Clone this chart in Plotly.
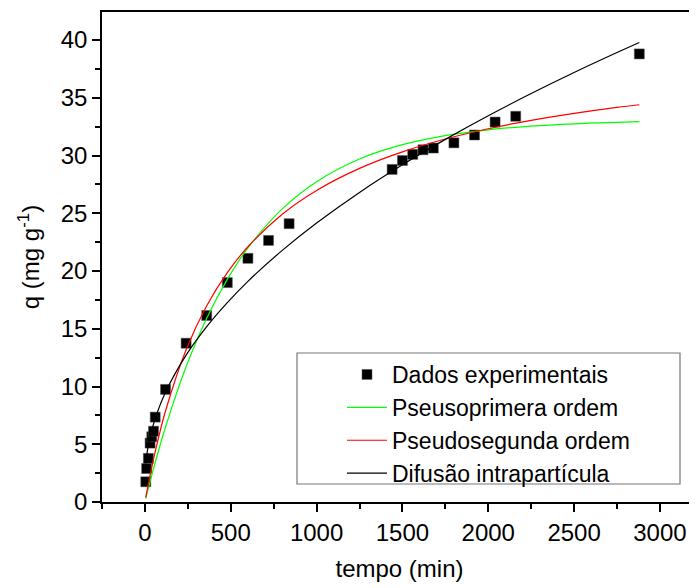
import plotly.graph_objects as go

# Experimental data
t_exp = [5, 10, 20, 30, 40, 50, 60, 120, 240, 360, 480, 600, 720, 840,
         1440, 1500, 1560, 1620, 1680, 1800, 1920, 2040, 2160, 2880]
q_exp = [1.75, 2.9, 3.78, 5.1, 5.65, 6.13, 7.35, 9.75, 13.75, 16.15, 19.0, 21.1, 22.65, 24.1,
         28.8, 29.57, 30.1, 30.5, 30.65, 31.1, 31.78, 32.9, 33.4, 38.8]

# Fitted curves
t_fit = [5, 15, 30, 60, 120, 240, 360, 480, 600, 800, 1000, 1250, 1500, 1750, 2000, 2250, 2500, 2750, 2880]
q_pfo = [0.30, 0.89, 1.76, 3.42, 6.49, 11.71, 15.91, 19.28, 22.0, 25.38, 27.74, 29.70, 30.94,
         31.73, 32.23, 32.55, 32.75, 32.88, 32.93]
q_pso = [0.40, 1.19, 2.31, 4.37, 7.88, 13.18, 16.99, 19.86, 22.10, 24.92, 26.98, 28.89, 30.32,
         31.43, 32.32, 33.05, 33.65, 34.17, 34.40]
q_dif = [3.33, 4.49, 5.62, 7.23, 9.51, 12.72, 15.19, 17.27, 19.11, 21.79, 24.16, 26.81, 29.20,
         31.40, 33.45, 35.37, 37.19, 38.92, 39.79]

FONT = "Arial, Liberation Sans, sans-serif"
FS = 24
LFS = 23

fig = go.Figure()
fig.add_trace(go.Scatter(x=t_exp, y=q_exp, mode="markers", name="Dados experimentais",
                         marker=dict(symbol="square", size=10, color="black",
                                     line=dict(color="#555555", width=0.5))))
fig.add_trace(go.Scatter(x=t_fit, y=q_pfo, mode="lines", name="Pseusoprimera ordem",
                         line=dict(color="#00ff00", width=1.2, shape="spline")))
fig.add_trace(go.Scatter(x=t_fit, y=q_pso, mode="lines", name="Pseudosegunda ordem",
                         line=dict(color="#ff0000", width=1.2, shape="spline")))
fig.add_trace(go.Scatter(x=t_fit, y=q_dif, mode="lines", name="Difusão intrapartícula",
                         line=dict(color="black", width=1.2, shape="spline")))

# page body has an 8px default margin; work in window pixels and convert
OFF = 8
W, H = 697 - OFF, 588 - OFF
PL, PR, PT, PB = 102, 697, 12, 502          # plot area in window pixels
L, T = PL - OFF, PT - OFF
R = W - (PR - OFF)
B = H - (PB - OFF)
pw, ph = PR - PL, PB - PT

def px2paper(x, y):
    return (x - PL) / pw, (PB - y) / ph

x0, y0 = px2paper(297, 484)
x1, y1 = px2paper(680, 353)
fig.add_shape(type="rect", xref="paper", yref="paper", x0=x0, y0=y0, x1=x1, y1=y1,
              line=dict(color="#777777", width=1.2), fillcolor="white", layer="below")

lx, ly = px2paper(342, 353)

fig.update_layout(
    width=W, height=H,
    margin=dict(l=L, r=R, t=T, b=B),
    paper_bgcolor="white", plot_bgcolor="white",
    font=dict(family=FONT, size=FS, color="black"),
    showlegend=True,
    legend=dict(x=lx, y=ly, xanchor="left", yanchor="top",
                bgcolor="rgba(0,0,0,0)", borderwidth=0,
                font=dict(family=FONT, size=LFS, color="black"),
                tracegroupgap=0, itemwidth=40),
    xaxis=dict(range=[-250, 3216], tickmode="linear", tick0=0, dtick=500,
               ticks="outside", ticklen=8, tickwidth=1.5, tickcolor="black",
               showline=True, linewidth=1.5, linecolor="black", mirror=True,
               showgrid=False, zeroline=False,
               minor=dict(dtick=250, tick0=0, ticks="outside", ticklen=5, tickwidth=1.5,
                          tickcolor="black", showgrid=False),
               title=dict(text="tempo (min)", standoff=16, font=dict(size=FS)),
               tickfont=dict(size=FS)),
    yaxis=dict(range=[0, 42.43], tickmode="linear", tick0=0, dtick=5,
               ticks="outside", ticklen=8, tickwidth=1.5, tickcolor="black",
               showline=True, linewidth=1.5, linecolor="black", mirror=False,
               showgrid=False, zeroline=False,
               minor=dict(dtick=2.5, tick0=0, ticks="outside", ticklen=5, tickwidth=1.5,
                          tickcolor="black", showgrid=False),
               title=dict(text="q (mg g<sup>-1</sup>)", standoff=14, font=dict(size=FS)),
               tickfont=dict(size=FS)),
)

fig.write_html("out.html")
